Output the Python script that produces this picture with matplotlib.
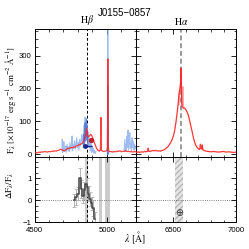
import numpy as np
import matplotlib
matplotlib.use("Agg")
import matplotlib.pyplot as plt
from matplotlib.ticker import MultipleLocator

plt.rcParams['font.family'] = ['Liberation Sans', 'DejaVu Sans']
plt.rcParams['mathtext.fontset'] = 'stix'
plt.rcParams['axes.unicode_minus'] = True

title = "J0155\u22120857"

# ---- top-left: red spectrum (Hbeta region)
red_l_wl = [4500,4510,4520,4530,4540,4550,4560,4570,4580,4590,4600,4610,4620,4630,4640,4650,4660,4670,4680,4690,
            4700,4710,4720,4730,4740,4750,4760,4770,4780,4790,4800,4810,4820,4830,4840,4845,4850,4855,4860,4863,
            4866,4870,4875,4880,4885,4890,4895,4900,4905,4910,4915,4920,4925,4930,4935,4940,4945,4950,4955,4957,
            4959,4961,4963,4970,4980,4990,5000,5004,5006,5007,5008,5010,5015,5020,5030,5040,5050,5060,5070,5080,
            5090,5100,5110,5120,5130,5140,5150,5160,5170,5180,5190,5200]
red_l_fl = [4,5,3,6,5,7,6,8,7,6,8,7,9,8,10,9,11,12,15,13,
            11,10,14,18,17,20,19,22,21,25,26,29,30,33,38,45,52,60,78,70,
            58,55,52,56,58,60,57,52,46,40,34,28,22,17,14,11,10,9,12,40,
            112,40,12,9,8,9,10,20,150,290,150,20,9,7,8,6,8,7,9,8,
            10,7,9,8,10,8,9,7,8,6,8,7]

# light blue high-resolution spectrum
blue_wl = [4690,4692,4695,4700,4703,4706,4710,4715,4720,4725,4730,4735,4740,4745,4750,4755,4760,4763,4768,4772,
           4777,4782,4787,4792,4797,4802,4807,4812,4817,4822,4827,4832,4837,4842,4846,4850,4854,4858,4862,4866,
           4870,4874,4878,4882,4886,4890,4894,4898,4902,4906,4910,4915,4920,4925,
           np.nan,5005,5007,5009,np.nan,
           5120,5125,5128,5132,5136,5140,5143,5147,5151,5155,5159,5163,5167,5171,5175,5179,5184,5188,5192,5196,5200]
blue_fl = [10,45,5,20,38,8,15,25,5,30,12,22,8,35,15,20,55,10,30,18,
           40,15,28,50,20,35,12,45,25,40,60,30,50,88,40,112,60,110,50,90,
           30,65,20,45,10,35,5,25,8,18,3,12,2,8,
           np.nan,0,420,0,np.nan,
           10,45,8,30,12,55,20,73,15,40,65,18,35,10,50,20,38,12,30,15,22]

# darker blue (binned) spectrum around Hbeta and [OIII]
dblue_wl = [4838,4842,4846,4850,4854,4858,4862,4866,4870, np.nan, 5005,5007,5009]
dblue_fl = [20,60,30,95,40,105,45,70,25, np.nan, 0,210,0]

# measured points
pt_blue = (4847, 25, 7, 53)   # x, y, xerr_left, xerr_right
pt_red = (4890, 42)

# ---- top-right: red spectrum (Halpha region)
red_r_wl = [6200,6210,6220,6230,6240,6250,6260,6270,6280,6290,6295,6300,6303,6310,6320,6330,6340,6350,6360,6370,
            6380,6390,6400,6410,6420,6430,6440,6450,6460,6470,6480,6490,6500,6510,6520,6530,6540,6545,6550,6555,
            6560,6562,6564,6567,6570,6575,6580,6590,6600,6610,6620,6630,6640,6650,6660,6670,6680,6690,6700,6710,
            6716,6720,6728,6731,6735,6745,6760,6780,6800,6820,6840,6860,6880,6900,6920,6940,6960,6980,7000]
red_r_fl = [6,5,7,5,6,7,6,8,7,8,9,18,9,8,9,10,11,10,11,10,
            9,10,9,11,12,14,17,20,24,30,36,44,55,70,95,125,160,185,195,205,
            230,262,210,160,145,142,140,140,135,128,118,102,85,68,50,36,26,20,16,14,
            30,18,15,28,14,11,9,8,7,8,7,6,7,8,6,7,6,5,6]
lred_wl = [6545,6550,6555,6560,6563,6566,6570,6574,6577,6580,6585]
lred_fl = [150,190,200,215,255,180,150,200,205,150,140]

# ---- bottom-left: residuals
res_wl = [4770,4785,4800,4815,4825,4835,4845,4855,4865,4875,4885,4895,4905,4915]
res_val = [0.0,0.15,0.3,1.0,0.5,0.2,0.45,0.75,0.6,0.3,0.05,-0.15,-0.35,-0.85]
res_err = [0.3,0.35,0.3,0.45,0.4,0.35,0.4,0.5,0.4,0.35,0.3,0.3,0.35,0.3]

mask_l = [(4850, 4870), (4945, 4970), (4990, 5020)]
mask_r = (6510, 6580)
hbeta = 4861
halpha = 6563

fig = plt.figure(figsize=(2.49, 2.49), dpi=100)
x0, xm, x1 = 0.1386, 0.545, 0.948
yb, ym, yt = 0.108, 0.368, 0.882
ax_tl = fig.add_axes([x0, ym, xm - x0, yt - ym])
ax_tr = fig.add_axes([xm, ym, x1 - xm, yt - ym])
ax_bl = fig.add_axes([x0, yb, xm - x0, ym - yb])
ax_br = fig.add_axes([xm, yb, x1 - xm, ym - yb])

tickfs = 5.6
for ax in (ax_tl, ax_tr, ax_bl, ax_br):
    ax.tick_params(which='both', direction='in', top=True, right=True, labelsize=tickfs, pad=2.0)
    ax.tick_params(axis='x', which='both', pad=3.8)
    ax.tick_params(which='major', length=3.5, width=0.6)
    ax.tick_params(which='minor', length=1.8, width=0.5)
    ax.xaxis.set_minor_locator(MultipleLocator(100))
    ax.xaxis.set_major_locator(MultipleLocator(500))
    for s in ax.spines.values():
        s.set_linewidth(0.7)

for ax in (ax_tl, ax_tr):
    ax.set_ylim(-10, 380)
    ax.yaxis.set_major_locator(MultipleLocator(100))
    ax.yaxis.set_minor_locator(MultipleLocator(25))
    ax.tick_params(labelbottom=False)
for ax in (ax_bl, ax_br):
    ax.set_ylim(-1, 1.95)
    ax.yaxis.set_major_locator(MultipleLocator(1))
    ax.yaxis.set_minor_locator(MultipleLocator(0.25))
for ax in (ax_tl, ax_bl):
    ax.set_xlim(4500, 5200)
for ax in (ax_tr, ax_br):
    ax.set_xlim(6200, 7000)
    ax.tick_params(labelleft=False)

# top-left
ax_tl.plot(blue_wl, blue_fl, color='#7fa6ec', lw=0.8, alpha=0.75, zorder=2)
ax_tl.plot(dblue_wl, dblue_fl, color='#3d6fd6', lw=0.8, alpha=0.8, zorder=2)
ax_tl.plot(red_l_wl, red_l_fl, color='#ff2020', lw=0.9, alpha=0.85, zorder=3)
ax_tl.axvline(hbeta, color='k', ls=(0, (3, 2)), lw=0.7, zorder=1)
ax_tl.errorbar(pt_blue[0], pt_blue[1], xerr=[[pt_blue[2]], [pt_blue[3]]], fmt='o', ms=2.5,
               color='#1a2a8a', elinewidth=1.0, capsize=0, zorder=5)
ax_tl.plot(pt_red[0], pt_red[1], 'o', ms=2.8, color='#c0202a', zorder=5)

# top-right
ax_tr.plot(lred_wl, lred_fl, color='#ff6060', lw=0.9, alpha=0.6, zorder=2)
ax_tr.plot(red_r_wl, red_r_fl, color='#ff2020', lw=0.9, alpha=0.9, zorder=3)
ax_tr.axvline(halpha, color='#999999', ls=(0, (2.5, 1.5)), lw=1.4, zorder=1)

# bottom-left
for a, b in mask_l:
    ax_bl.axvspan(a, b, color='#cccccc', lw=0, zorder=1)
ax_bl.axhline(0, color='#555555', ls=':', lw=0.6, zorder=1)
ax_bl.axvline(hbeta, color='k', ls=(0, (3, 2)), lw=0.7, zorder=2)
ax_bl.errorbar(res_wl, res_val, yerr=res_err, fmt='none', ecolor='#b0b0b0', elinewidth=0.7,
               capsize=1.5, capthick=0.6, zorder=3)
ax_bl.step(res_wl, res_val, where='mid', color='#444444', lw=1.1, zorder=4)

# bottom-right
ax_br.axvspan(mask_r[0], mask_r[1], facecolor='#e6e6e6', edgecolor='#b5b5b5', hatch='//////',
              lw=0, zorder=1)
ax_br.axhline(0, color='#555555', ls=':', lw=0.6, zorder=1)
ax_br.text(6545, -0.6, '\u2295', ha='center', va='center', fontsize=7.0, color='#333333',
           family=['DejaVu Sans'])

# labels
lab = dict(family='STIXGeneral')
fig.text(0.5, 0.946, title, ha='center', va='center', fontsize=7.0)
ax_tl.text(hbeta, 1.02, r'H$\beta$', transform=ax_tl.get_xaxis_transform(), ha='center', va='bottom', fontsize=7.0, **lab)
ax_tr.text(halpha, 1.02, r'H$\alpha$', transform=ax_tr.get_xaxis_transform(), ha='center', va='bottom', fontsize=7.0, **lab)
fig.text(0.042, 0.6,
         r'F$_\lambda$ [$\times$10$^{-17}$ erg s$^{-1}$ cm$^{-2}$ $\mathrm{\AA}^{-1}$]',
         rotation=90, ha='center', va='center', fontsize=6.4, **lab)
fig.text(0.042, 0.255, r'$\Delta$F$_\lambda$/F$_\lambda$', rotation=90,
         ha='center', va='center', fontsize=6.4, **lab)
fig.text(0.543, 0.012, r'$\lambda$ [$\mathrm{\AA}$]', ha='center', va='bottom', fontsize=7.0, **lab)

fig.savefig('out.png', dpi=100)
